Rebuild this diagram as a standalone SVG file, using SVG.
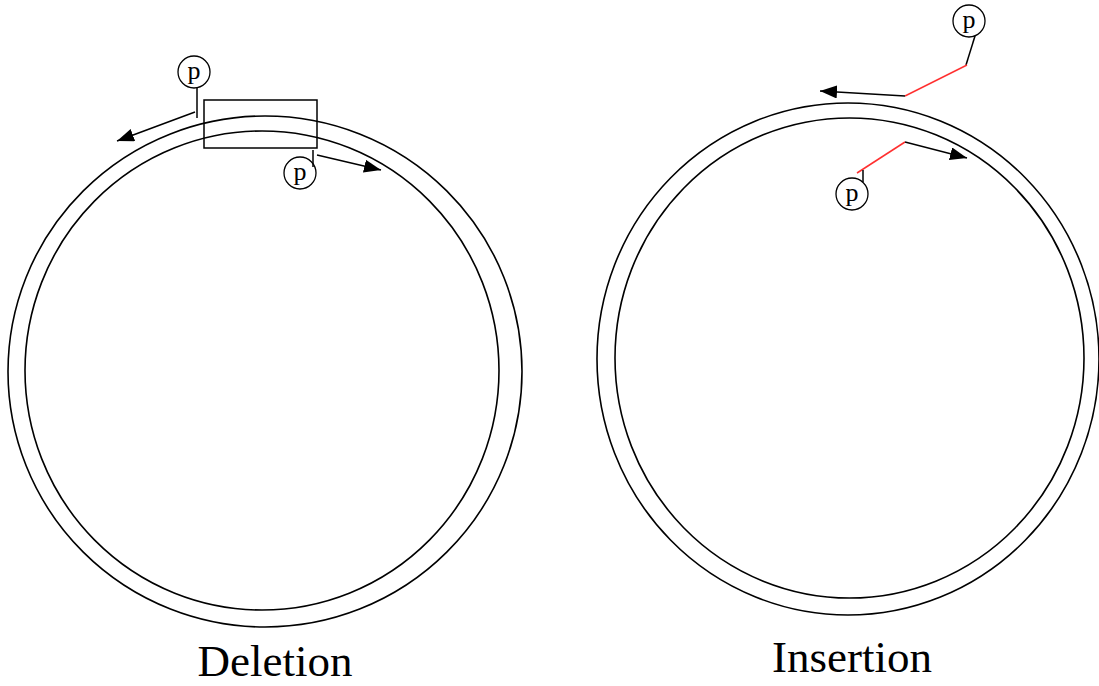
<svg xmlns="http://www.w3.org/2000/svg" width="1099" height="686" viewBox="0 0 1099 686">
<defs>
<marker id="ah" markerUnits="userSpaceOnUse" markerWidth="20" markerHeight="14" refX="17" refY="6.5" orient="auto">
<path d="M0,0 L17,6.5 L0,13 Z" fill="#000"/>
</marker>
<style>
.ring{fill:none;stroke:#000;stroke-width:1.6}
.ln{fill:none;stroke:#000;stroke-width:1.5}
.red{fill:none;stroke:#ff3030;stroke-width:1.5}
.pc{fill:#fff;stroke:#000;stroke-width:1.3}
.pt{font-family:"Liberation Serif",serif;font-size:26px;text-anchor:middle;fill:#000}
.lbl{font-family:"Liberation Serif",serif;font-size:45px;text-anchor:middle;fill:#000}
</style>
</defs>
<rect width="1099" height="686" fill="#fff"/>
<g id="plasmid-left">
<ellipse class="ring" cx="265" cy="371.5" rx="257" ry="255.5"/>
<ellipse class="ring" cx="262" cy="370.5" rx="237" ry="239.5"/>
</g>
<g id="plasmid-right">
<ellipse class="ring" cx="848" cy="359" rx="251" ry="256"/>
<ellipse class="ring" cx="849.5" cy="358" rx="234.5" ry="240"/>
</g>
<g id="deletion-box">
<rect x="204" y="100" width="113" height="48" fill="none" stroke="#000" stroke-width="1.5"/>
</g>
<g id="p-left-top">
<circle class="pc" cx="194" cy="72" r="16"/>
<text class="pt" x="194" y="79">p</text>
</g>
<g id="p-left-bottom">
<circle class="pc" cx="300" cy="173" r="16"/>
<text class="pt" x="300" y="180">p</text>
</g>
<g id="p-right-top">
<circle class="pc" cx="969" cy="21" r="16"/>
<text class="pt" x="969" y="28">p</text>
</g>
<g id="p-right-bottom">
<circle class="pc" cx="852" cy="194" r="16"/>
<text class="pt" x="852" y="201">p</text>
</g>
<g id="connectors">
<line class="ln" x1="197" y1="88" x2="197" y2="118"/>
<line class="ln" x1="195" y1="112" x2="117" y2="141" marker-end="url(#ah)"/>
<line class="ln" x1="313" y1="150" x2="313" y2="167"/>
<line class="ln" x1="317" y1="155" x2="381" y2="170" marker-end="url(#ah)"/>
<line class="ln" x1="975" y1="36" x2="966" y2="65"/>
<line class="red" x1="967" y1="65" x2="905" y2="96"/>
<line class="ln" x1="905" y1="96" x2="820" y2="91" marker-end="url(#ah)"/>
<line class="red" x1="905" y1="142" x2="857" y2="173"/>
<line class="ln" x1="863" y1="170" x2="863" y2="182"/>
<line class="ln" x1="905" y1="142" x2="967" y2="158" marker-end="url(#ah)"/>
</g>
<g id="labels">
<text class="lbl" x="275" y="676">Deletion</text>
<text class="lbl" x="852" y="672">Insertion</text>
</g>
</svg>
